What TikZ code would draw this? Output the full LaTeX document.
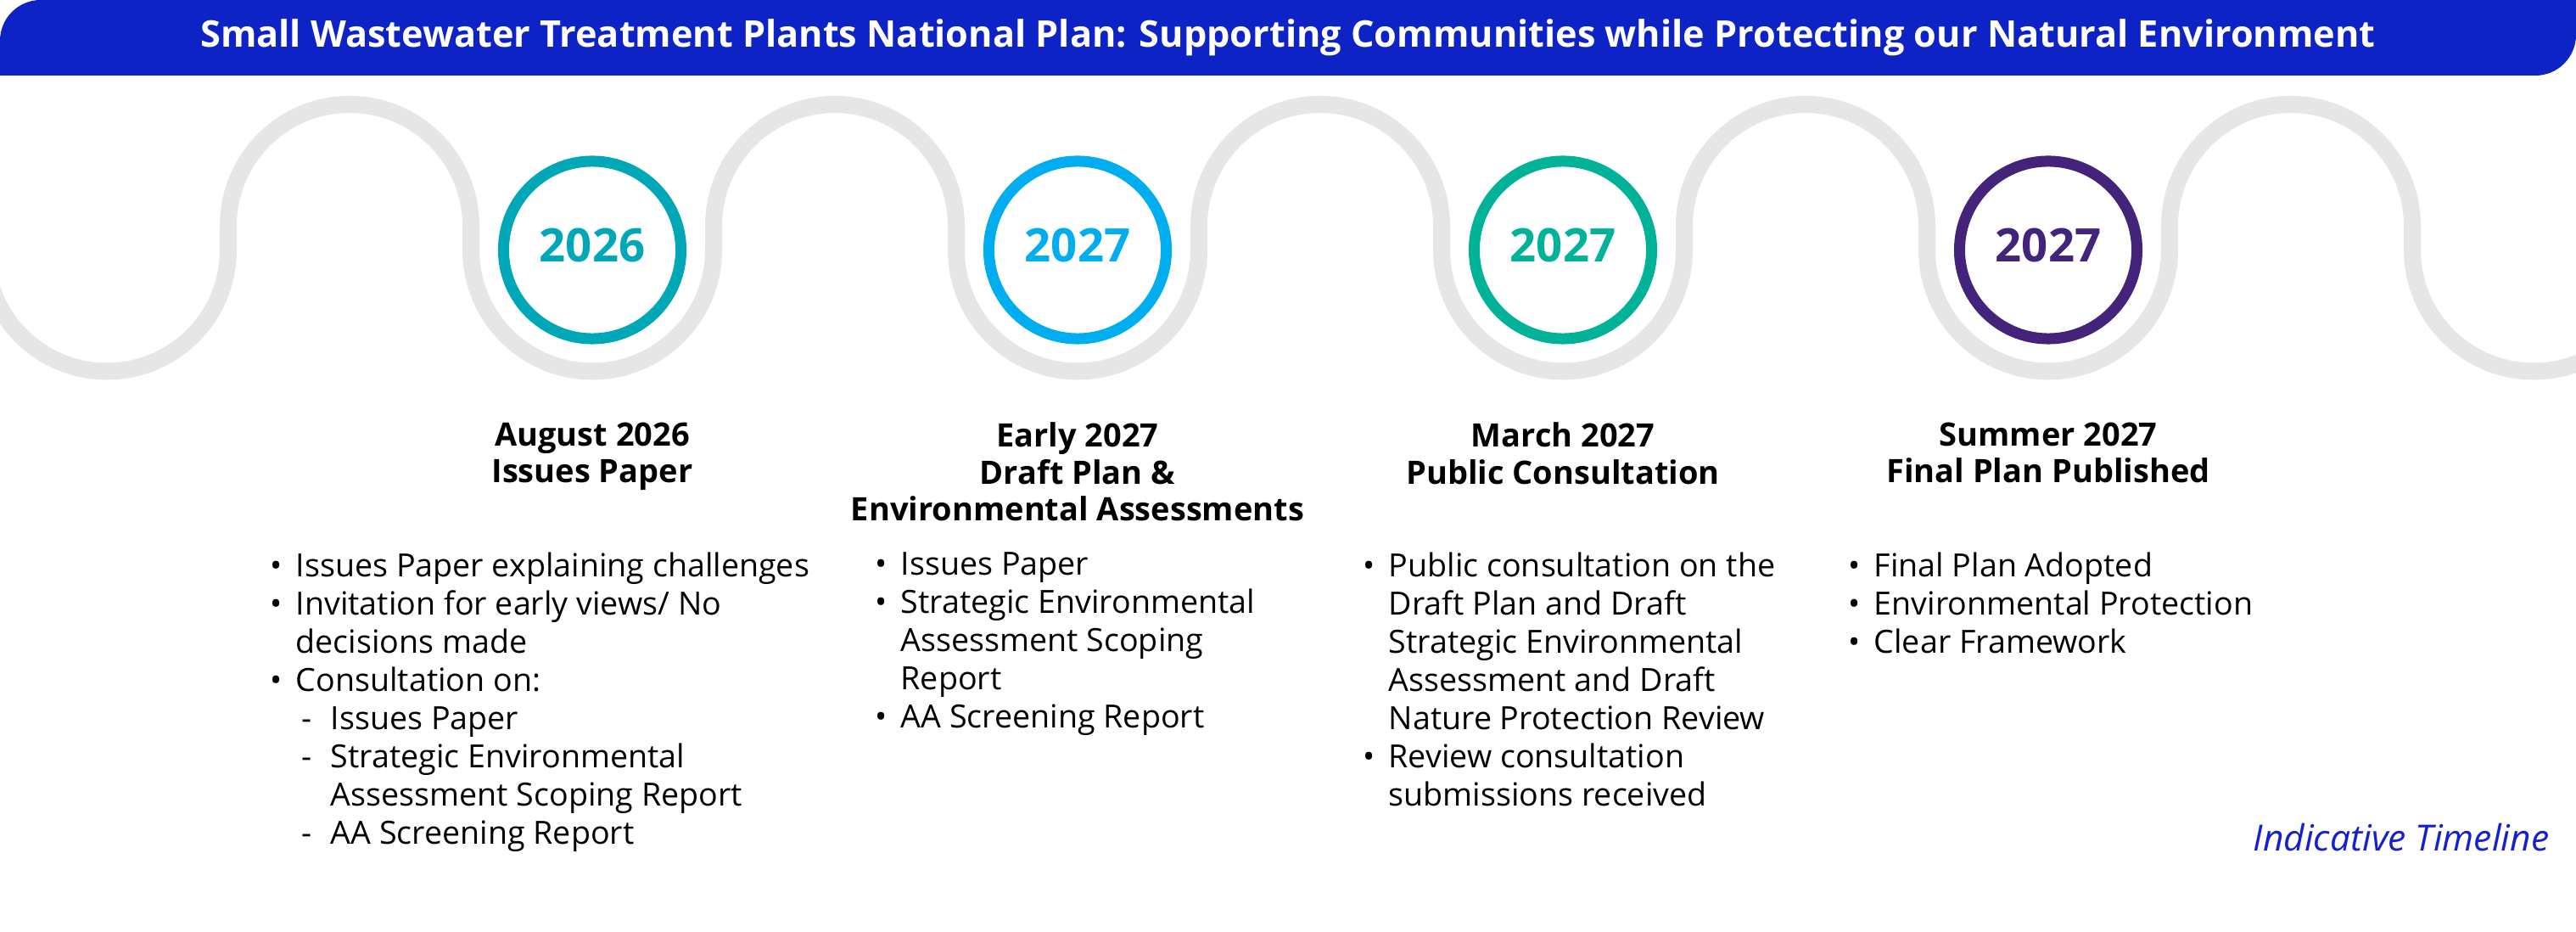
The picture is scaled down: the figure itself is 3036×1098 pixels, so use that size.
\documentclass[tikz,border=0pt]{standalone}
\usepackage{fontspec}
\setmainfont{Open Sans}
\usetikzlibrary{positioning}

\definecolor{hdrblue}{RGB}{13,35,197}
\definecolor{wavegrey}{RGB}{230,230,230}
\definecolor{yrteal}{RGB}{0,168,183}
\definecolor{yrsky}{RGB}{0,174,239}
\definecolor{yrgreen}{RGB}{0,179,152}
\definecolor{yrpurple}{RGB}{68,36,122}
\definecolor{noteblue}{RGB}{20,30,210}

% bullet and dash boxes for the lists
\newcommand\itemdot{\makebox[0.3cm][l]{\textbullet}}
\newcommand\itemgap{\hspace*{0.3cm}}
\newcommand\subdash{\hspace*{0.37cm}\makebox[0.34cm][l]{-}}
\newcommand\subgap{\hspace*{0.71cm}}

\tikzset{
  wave/.style={draw=wavegrey, line width=0.2cm},
  ring/.style={draw=#1, fill=white, circle, line width=0.13cm, minimum size=2.09cm, inner sep=0pt},
  year/.style={text=#1, font=\fontsize{15.5}{18}\selectfont\bfseries, inner sep=0pt},
  heading/.style={font=\fontsize{10.8}{12.4}\selectfont\bfseries, align=center, anchor=north, inner sep=0pt},
  bullets/.style={font=\fontsize{10.7}{12.8}\selectfont, align=left, anchor=north west, inner sep=0pt},
}

\begin{document}
\begin{tikzpicture}[x=0.01cm, y=-0.01cm]
    \useasboundingbox (0,0) rectangle (3036,1098);
    \fill[white] (0,0) rectangle (3036,1098);

    % Draw the header bar
    \fill[hdrblue] (0,89) -- (0,48) arc[start angle=180, end angle=270, radius=48]
        -- (3036,0) -- (3036,41) arc[start angle=0, end angle=90, radius=48] -- cycle;
    \node[text=white, font=\fontsize{12.3}{14}\selectfont\bfseries] (title) at (1518,44)
        {Small Wastewater Treatment Plants National Plan: Supporting Communities while Protecting our Natural Environment};

    % Draw the grey wave
    \begin{scope}
        \clip (0,0) rectangle (3036,1098);
        \draw[wave] (-17,294.5) \foreach \k in {0,...,5} {
            arc[start angle=180, end angle=0, radius=143] -- ++(0,-28.5)
            arc[start angle=180, end angle=360, radius=143] -- ++(0,28.5)
        };
    \end{scope}

    % Year circles
    \foreach \i/\x/\c/\yr in {1/698/yrteal/2026, 2/1270/yrsky/2027, 3/1842/yrgreen/2027, 4/2414/yrpurple/2027} {
        \node[ring=\c] (c\i) at (\x,294.5) {};
        \node[year=\c] (y\i) at ([yshift=0.05cm]c\i.center) {\yr};
    }

    % Headings under the circles
    \node[heading] (h1) at (698,497) {August 2026\\Issues Paper};
    \node[heading] (h2) at (1270,497) {Early 2027\\Draft Plan \&\\Environmental Assessments};
    \node[heading] (h3) at (1842,497) {March 2027\\Public Consultation};
    \node[heading] (h4) at (2414,497) {Summer 2027\\Final Plan Published};

    % Bullet lists
    \node[bullets] (b1) at (318,650) {%
        \itemdot Issues Paper explaining challenges\\
        \itemdot Invitation for early views/ No\\
        \itemgap decisions made\\
        \itemdot Consultation on:\\
        \subdash Issues Paper\\
        \subdash Strategic Environmental\\
        \subgap Assessment Scoping Report\\
        \subdash AA Screening Report};
    \node[bullets] (b2) at (1031,650) {%
        \itemdot Issues Paper\\
        \itemdot Strategic Environmental\\
        \itemgap Assessment Scoping\\
        \itemgap Report\\
        \itemdot AA Screening Report};
    \node[bullets] (b3) at (1606,650) {%
        \itemdot Public consultation on the\\
        \itemgap Draft Plan and Draft\\
        \itemgap Strategic Environmental\\
        \itemgap Assessment and Draft\\
        \itemgap Nature Protection Review\\
        \itemdot Review consultation\\
        \itemgap submissions received};
    \node[bullets] (b4) at (2178,650) {%
        \itemdot Final Plan Adopted\\
        \itemdot Environmental Protection\\
        \itemdot Clear Framework};

    \node[text=noteblue, font=\fontsize{12.1}{14}\selectfont\itshape, anchor=east, inner sep=0pt] (note) at (3005,987) {Indicative Timeline};
\end{tikzpicture}
\end{document}
